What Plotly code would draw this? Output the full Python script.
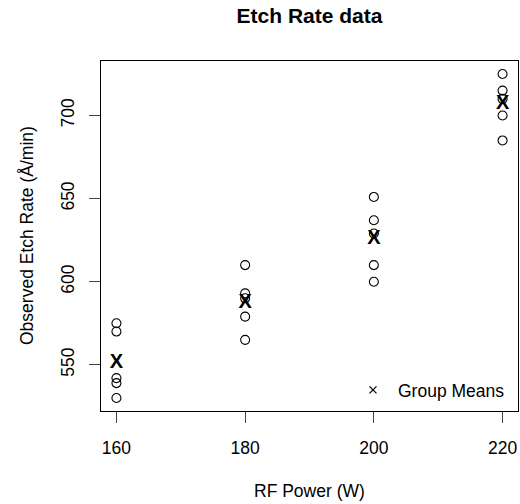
import plotly.graph_objects as go

power = [160, 180, 200, 220]
rates = {
    160: [575, 542, 530, 539, 570],
    180: [565, 593, 590, 579, 610],
    200: [600, 651, 610, 637, 629],
    220: [725, 700, 715, 685, 710],
}
means = [sum(rates[p]) / len(rates[p]) for p in power]
y_ticks = [550, 600, 650, 700]

xs, ys = [], []
for p in power:
    xs += [p] * len(rates[p])
    ys += rates[p]

W, H = 520, 504
L, R, T, B = 101, 2, 61, 93
PW, PH = W - L - R, H - T - B
font = "Liberation Sans, Arial, sans-serif"
fs = 17.5

fig = go.Figure()
fig.add_trace(go.Scatter(
    x=xs, y=ys, mode="markers", showlegend=False,
    marker=dict(symbol="circle-open", size=9, color="black", line=dict(width=1.1)),
))
fig.add_trace(go.Scatter(
    x=power, y=means, mode="text", text=["X"] * len(power), showlegend=False,
    textposition="middle center",
    textfont=dict(size=20, color="black", family=font, weight="bold"),
))
# legend entry (no data)
fig.add_trace(go.Scatter(
    x=[None], y=[None], mode="markers", name="Group Means",
    marker=dict(symbol="x-thin-open", size=7, color="black", line=dict(width=1.3, color="black")),
))

fig.update_layout(
    width=W, height=H,
    margin=dict(l=L, r=R, t=T, b=B),
    paper_bgcolor="white", plot_bgcolor="white",
    font=dict(family=font, size=fs, color="black"),
    title=dict(text="<b>Etch Rate data</b>", x=(L + W - R) / 2 / W, xanchor="center",
               y=1 - 16 / H, yanchor="middle", font=dict(size=21)),
    legend=dict(x=(348 - L) / PW, y=(H - B - 390) / PH, xanchor="left", yanchor="middle",
                bgcolor="rgba(0,0,0,0)", font=dict(size=fs), borderwidth=0, itemwidth=40),
    showlegend=True,
    annotations=[
        dict(text="RF Power (W)", xref="paper", yref="paper", x=0.5, y=0,
             yshift=-(491 - (H - B)), xanchor="center", yanchor="middle",
             showarrow=False, font=dict(size=fs)),
        dict(text="Observed Etch Rate (Å/min)", xref="paper", yref="paper", x=0, y=0.5,
             xshift=-(L - 27), xanchor="center", yanchor="middle", textangle=-90,
             showarrow=False, font=dict(size=fs)),
    ],
)
fig.update_xaxes(
    range=[157.6, 222.4], tickvals=power, ticks="outside", ticklen=11, tickwidth=1,
    showline=True, mirror=True, linecolor="black", linewidth=1, showgrid=False, zeroline=False,
    ticklabelstandoff=10, tickfont=dict(size=fs),
)
fig.update_yaxes(
    range=[522.2, 732.8], tickvals=y_ticks, ticks="outside", ticklen=11, tickwidth=1,
    tickangle=-90, ticklabelstandoff=8,
    showline=True, mirror=True, linecolor="black", linewidth=1, showgrid=False, zeroline=False,
    tickfont=dict(size=fs),
)
fig.write_html("out.html", config={"displayModeBar": False},
               post_script="document.body.style.margin='0';")
